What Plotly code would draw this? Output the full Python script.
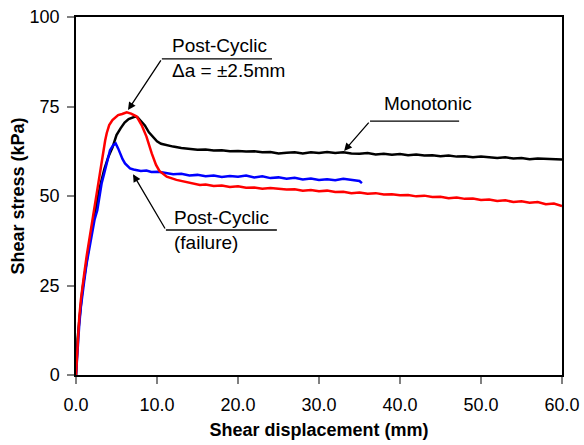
import plotly.graph_objects as go

# Monotonic (black)
mono_x = [0, 0.1, 0.2, 0.4, 0.6, 0.8, 1.0, 1.3, 1.6, 2.0, 2.5, 3.0, 3.5, 4.0, 4.5, 5.0, 5.5, 6.0, 6.5, 7.0, 7.3, 7.6,
          8.0, 8.5, 9.0, 9.5, 10.0, 10.5, 11.0, 11.5, 12, 13, 14, 15, 16, 17, 18, 19, 20, 21, 22, 23, 24, 25, 26, 27,
          28, 29, 30, 31, 32, 33, 34, 35, 36, 37, 38, 39, 40, 41, 42, 43, 44, 45, 46, 47, 48, 49, 50, 51, 52, 53, 54,
          55, 56, 57, 58, 59, 60]
mono_y = [0, 5, 10, 15, 20.5, 24, 27, 32, 36, 41.5, 47.5, 53, 57.5, 61, 63.5, 67, 68.9, 70.5, 71.5, 72, 72.2, 72,
          71, 69.7, 67.8, 66.4, 65.3, 64.6, 64.3, 64.0, 63.8, 63.4, 63.2, 62.9, 63.0, 62.7, 62.8, 62.5, 62.6, 62.4, 62.5,
          62.2, 62.3, 61.9, 62.1, 62.2, 61.9, 62.2, 62.0, 62.3, 62.0, 62.2, 61.9, 61.8, 62.0, 61.6, 61.8, 61.5, 61.7,
          61.4, 61.6, 61.3, 61.4, 61.1, 61.3, 61.0, 61.1, 60.8, 61.0, 60.8, 60.6, 60.8, 60.5, 60.6, 60.3, 60.5, 60.4,
          60.1, 60.2]

# Post-Cyclic, failure (blue)
fail_x = [0, 0.1, 0.2, 0.4, 0.6, 0.8, 1.0, 1.3, 1.6, 2.0, 2.3, 2.63, 2.9, 3.17, 3.45, 3.7, 4.2, 4.6, 4.9, 5.2, 5.43,
          5.75, 6.05, 6.4, 6.67, 7.1, 7.5, 8.0, 8.7, 9.3, 10.2, 11, 12, 13, 14, 15, 16, 17, 18, 19, 20, 21, 22, 23, 24,
          25, 26, 27, 28, 29, 30, 31, 32, 33, 34, 35, 35.3]
fail_y = [0, 4, 8, 14, 19, 23, 26, 31, 35, 40, 43.5, 46, 50, 53.6, 56, 58.2, 62.8, 64.2, 64.7, 63.3, 61.9,
          60.3, 59.1, 58.2, 57.7, 57.4, 57.3, 57.0, 57.1, 56.7, 56.8, 56.4, 56.1, 56.2, 55.7, 55.9, 55.5, 55.7, 55.3,
          55.6, 55.4, 55.7, 55.2, 55.5, 55.0, 55.2, 54.8, 55.1, 54.6, 54.9, 54.5, 54.7, 54.4, 54.8, 54.5, 54.2, 53.6]

# Post-Cyclic, da = +-2.5 mm (red)
cyc_x = [0, 0.1, 0.2, 0.4, 0.6, 0.8, 1.0, 1.3, 1.6, 2.0, 2.2, 2.5, 2.76, 3.0, 3.37, 3.6, 3.8, 4.1, 4.5, 5.2, 5.7,
         6.26, 6.8, 7.5, 8.1, 8.7, 9.35, 9.88, 10.3, 10.8, 11.2, 12.4, 13.5, 14.5, 15.3, 16, 17, 18, 19, 20, 21, 22,
         23, 24, 25, 26, 27, 28, 29, 30, 31, 32, 33, 34, 35, 36, 37, 38, 39, 40, 41, 42, 43, 44, 45, 46, 47, 48, 49,
         50, 51, 52, 53, 54, 55, 56, 57, 58, 59, 60]
cyc_y = [0, 5, 10, 16, 21, 25, 28, 33, 37.5, 43, 46, 50, 53.6, 57, 62.8, 65.5, 67.6, 69.8, 71.2, 72.6, 72.9,
         73.4, 73.0, 72.2, 69.8, 66.6, 61.9, 58.7, 57, 56, 55.4, 54.5, 53.9, 53.4, 53.1, 53.2, 52.8, 52.9, 52.5, 52.7,
         52.3, 52.4, 52.0, 52.2, 52.0, 51.8, 51.9, 51.5, 51.7, 51.3, 51.5, 51.1, 51.2, 50.8, 51.0, 50.6, 50.8, 50.4,
         50.5, 50.2, 50.3, 49.9, 50.1, 49.7, 49.8, 49.4, 49.6, 49.2, 49.3, 48.9, 49.0, 48.6, 48.8, 48.3, 48.5, 48.1,
         48.3, 47.7, 47.9, 47.2]

x_ticks = [0, 10, 20, 30, 40, 50, 60]
y_ticks = [0, 25, 50, 75, 100]

FONT = "Arial, Liberation Sans, Helvetica, sans-serif"

fig = go.Figure()
fig.add_trace(go.Scatter(x=mono_x, y=mono_y, mode="lines", line=dict(color="black", width=2.5), name="Monotonic"))
fig.add_trace(go.Scatter(x=fail_x, y=fail_y, mode="lines", line=dict(color="#0000ff", width=2.5), name="Post-Cyclic (failure)"))
fig.add_trace(go.Scatter(x=cyc_x, y=cyc_y, mode="lines", line=dict(color="#ff0000", width=2.5), name="Post-Cyclic"))

# Callout annotations
callouts = [
    # text, text_x, text_y, tail_x, tail_y, tip_x, tip_y, underline_end_x
    ("Post-Cyclic<br>\u0394a = \u00b12.5mm", 11.6, 88.5, 10.6, 88.3, 6.42, 74.0, 24.2),
    ("Monotonic", 37.8, 75.7, 36.3, 70.9, 33.1, 62.6, 47.3),
    ("Post-Cyclic<br>(failure)", 11.85, 40.5, 11.1, 40.5, 7.04, 56.1, 24.8),
]
for text, tx, ty, ax, ay, hx, hy, ux in callouts:
    fig.add_annotation(x=tx, y=ty, xref="x", yref="y", text=text, showarrow=False, xanchor="left",
                       yanchor="middle", align="left", font=dict(family=FONT, size=19, color="black"))
    fig.add_annotation(x=hx, y=hy, ax=ax, ay=ay, xref="x", yref="y", axref="x", ayref="y", text="",
                       showarrow=True, arrowhead=2, arrowsize=1.2, arrowwidth=1.3, arrowcolor="black",
                       standoff=0, startstandoff=0)
    fig.add_shape(type="line", x0=ax, x1=ux, y0=ay, y1=ay, xref="x", yref="y",
                  line=dict(color="black", width=1.3))

fig.update_layout(
    width=584, height=445,
    margin=dict(l=76, r=22, t=17, b=70, autoexpand=False),
    paper_bgcolor="white", plot_bgcolor="white",
    showlegend=False,
    font=dict(family=FONT, size=18, color="black"),
)
fig.update_xaxes(
    range=[0, 60], tickvals=x_ticks, tickformat=".1f", automargin=False,
    showline=True, linecolor="black", linewidth=1.5, mirror=True,
    ticks="outside", ticklen=7, tickcolor="#808080", tickwidth=1.5, ticklabelstandoff=6,
    showgrid=False, zeroline=False,
    title=dict(text="<b>Shear displacement (mm)</b>", standoff=9, font=dict(size=18)),
    tickfont=dict(size=18),
)
fig.update_yaxes(
    range=[0, 100], tickvals=y_ticks, automargin=False,
    showline=True, linecolor="black", linewidth=1.5, mirror=True,
    ticks="outside", ticklen=7, tickcolor="#808080", tickwidth=1.5, ticklabelstandoff=4,
    showgrid=False, zeroline=False,
    title=dict(text="<b>Shear stress (kPa)</b>", standoff=0, font=dict(size=18)),
    tickfont=dict(size=18),
)

fig.write_html("out.html", config={"displayModeBar": False},
               post_script="document.body.style.margin='0';document.body.style.overflow='hidden';")
